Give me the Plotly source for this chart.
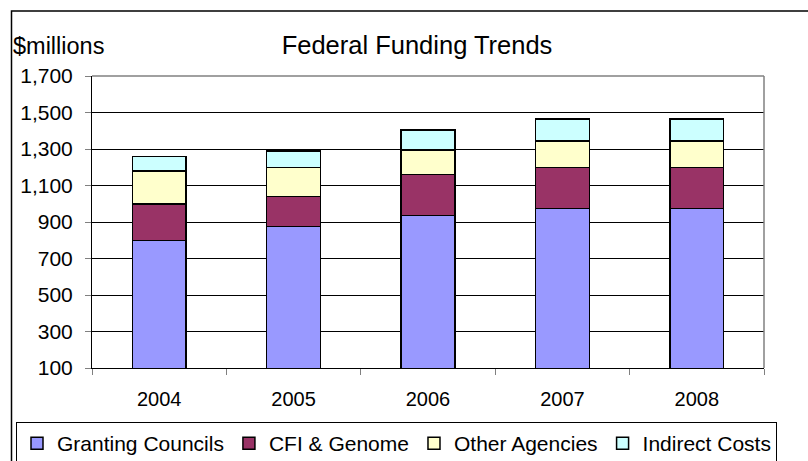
import plotly.graph_objects as go

years = ["2004", "2005", "2006", "2007", "2008"]
granting_councils = [800, 875, 935, 975, 975]
cfi_genome = [200, 165, 225, 225, 225]
other_agencies = [180, 160, 135, 145, 145]
indirect_costs = [80, 90, 110, 120, 120]

series = [
    ("Granting Councils", granting_councils, "#9999FF"),
    ("CFI & Genome", cfi_genome, "#993366"),
    ("Other Agencies", other_agencies, "#FFFFCC"),
    ("Indirect Costs", indirect_costs, "#CCFFFF"),
]

FONT = "Liberation Sans, Arial, sans-serif"

fig = go.Figure()
for name, vals, color in series:
    fig.add_trace(go.Bar(
        x=years, y=vals, name=name,
        marker=dict(color=color, line=dict(color="black", width=1.5)),
    ))

W, H = 808, 461
L, R, T, B = 92, 764, 76, 368
pw, ph = R - L, B - T

def px(x):
    return (x - L) / pw

def py(y):
    return (B - y) / ph

fig.update_layout(
    width=W, height=H,
    margin=dict(l=L, r=W - R, t=T, b=H - B, pad=0, autoexpand=False),
    barmode="stack",
    bargap=0.6,
    plot_bgcolor="white",
    paper_bgcolor="white",
    font=dict(family=FONT, size=20, color="black"),
    title=dict(text="Federal Funding Trends", x=417 / W, xref="container", xanchor="center",
               y=1 - 45 / H, yref="container", yanchor="middle",
               font=dict(size=25.5, family=FONT, color="black")),
    showlegend=True,
    legend=dict(orientation="h", x=px(16), xanchor="left", y=py(422), yanchor="top",
                bordercolor="black", borderwidth=1, bgcolor="white",
                font=dict(size=21, family=FONT), traceorder="normal",
                itemwidth=30, tracegroupgap=0),
    xaxis=dict(showline=True, linecolor="black", linewidth=1, ticks="outside", ticklen=6,
               tickcolor="#808080", tickson="boundaries", showgrid=False,
               tickfont=dict(size=20), ticklabelstandoff=13, automargin=False),
    yaxis=dict(range=[100, 1700], dtick=200, tick0=100, tickformat=",",
               showline=True, linecolor="black", linewidth=1, ticks="outside", ticklen=6,
               tickcolor="#808080", showgrid=True, gridcolor="black", gridwidth=1,
               tickfont=dict(size=21), ticklabelstandoff=8, zeroline=False, automargin=False),
    annotations=[dict(text="$millions", xref="paper", yref="paper", x=px(11), y=py(46),
                      xanchor="left", yanchor="middle", showarrow=False,
                      font=dict(size=23.5, family=FONT, color="black"))],
    shapes=[
        dict(type="line", xref="paper", yref="paper", x0=0, x1=1, y0=1, y1=1,
             line=dict(color="#808080", width=1.5), layer="above"),
        dict(type="line", xref="paper", yref="paper", x0=1, x1=1, y0=0, y1=1,
             line=dict(color="#808080", width=1.5), layer="above"),
        dict(type="rect", xref="paper", yref="paper", x0=px(11.5), x1=px(812), y0=py(465), y1=py(11),
             line=dict(color="black", width=1.5), layer="above"),
    ],
)

fig.write_html(
    "out.html",
    config={"displayModeBar": False},
    post_script="document.body.style.margin='0';document.body.style.overflow='hidden';",
)
